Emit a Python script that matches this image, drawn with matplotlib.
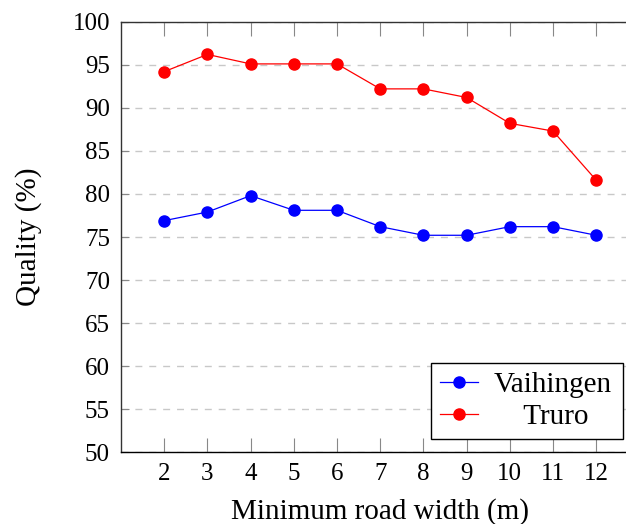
import matplotlib
matplotlib.use("Agg")
import matplotlib.pyplot as plt

widths = [2, 3, 4, 5, 6, 7, 8, 9, 10, 11, 12]
vaihingen = [76.9, 77.9, 79.8, 78.1, 78.1, 76.2, 75.2, 75.2, 76.2, 76.2, 75.2]
truro = [94.2, 96.2, 95.1, 95.1, 95.1, 92.2, 92.2, 91.2, 88.2, 87.3, 81.6]
yticks = [50, 55, 60, 65, 70, 75, 80, 85, 90, 95, 100]

plt.rcParams['font.family'] = ['Liberation Serif', 'DejaVu Serif']
plt.rcParams['font.size'] = 18

fig = plt.figure(figsize=(6.26, 5.24), dpi=100)
W, H = 626, 524
left, right_px, top, bottom = 121, 121 + 12 * 43.2, 21.7, 452.3
ax = fig.add_axes([left / W, (H - bottom) / H, (right_px - left) / W, (bottom - top) / H])

ax.plot(widths, vaihingen, color='#0000ff', marker='o', markersize=8, linewidth=0.9, label='Vaihingen', zorder=3)
ax.plot(widths, truro, color='#ff0000', marker='o', markersize=8, linewidth=0.9, label='Truro', zorder=3)

ax.set_xlim(1, 13)
ax.set_ylim(50, 100)
ax.set_xticks(widths)
ax.set_yticks(yticks)
ax.yaxis.grid(True, linestyle=(0, (5, 5)), color='#c8c8c8', linewidth=1.0)
ax.set_axisbelow(True)

ax.tick_params(axis='x', direction='in', length=10, width=0.8, color='#888888', top=True, pad=8)
ax.tick_params(axis='y', direction='in', length=6, width=0.8, color='#888888', pad=8)
for s in ['left', 'bottom', 'top']:
    ax.spines[s].set_linewidth(1.0)
ax.spines['left'].set_color('#333333')
ax.spines['top'].set_color('#333333')
ax.spines['bottom'].set_color('#000000')
ax.spines['right'].set_visible(False)

ax.set_xlabel('Minimum road width (m)', fontsize=21, labelpad=9)
ax.set_ylabel('Quality (%)', fontsize=21, labelpad=22)

leg = ax.legend(loc='lower left', bbox_to_anchor=((431 - left) / (right_px - left), (bottom - 439) / (bottom - top),
                                                  (623 - 431) / (right_px - left), (439 - 362) / (bottom - top)),
                mode='expand', fancybox=False, framealpha=1, edgecolor='#000000', fontsize=21,
                handlelength=1.3, handletextpad=0.55, borderpad=0.3, labelspacing=0.2, borderaxespad=0)
leg.get_frame().set_linewidth(1.0)
texts = leg.get_texts()
texts[1].set_text('\u2007\u2007' + texts[1].get_text())

fig.savefig('out.png', dpi=100)
